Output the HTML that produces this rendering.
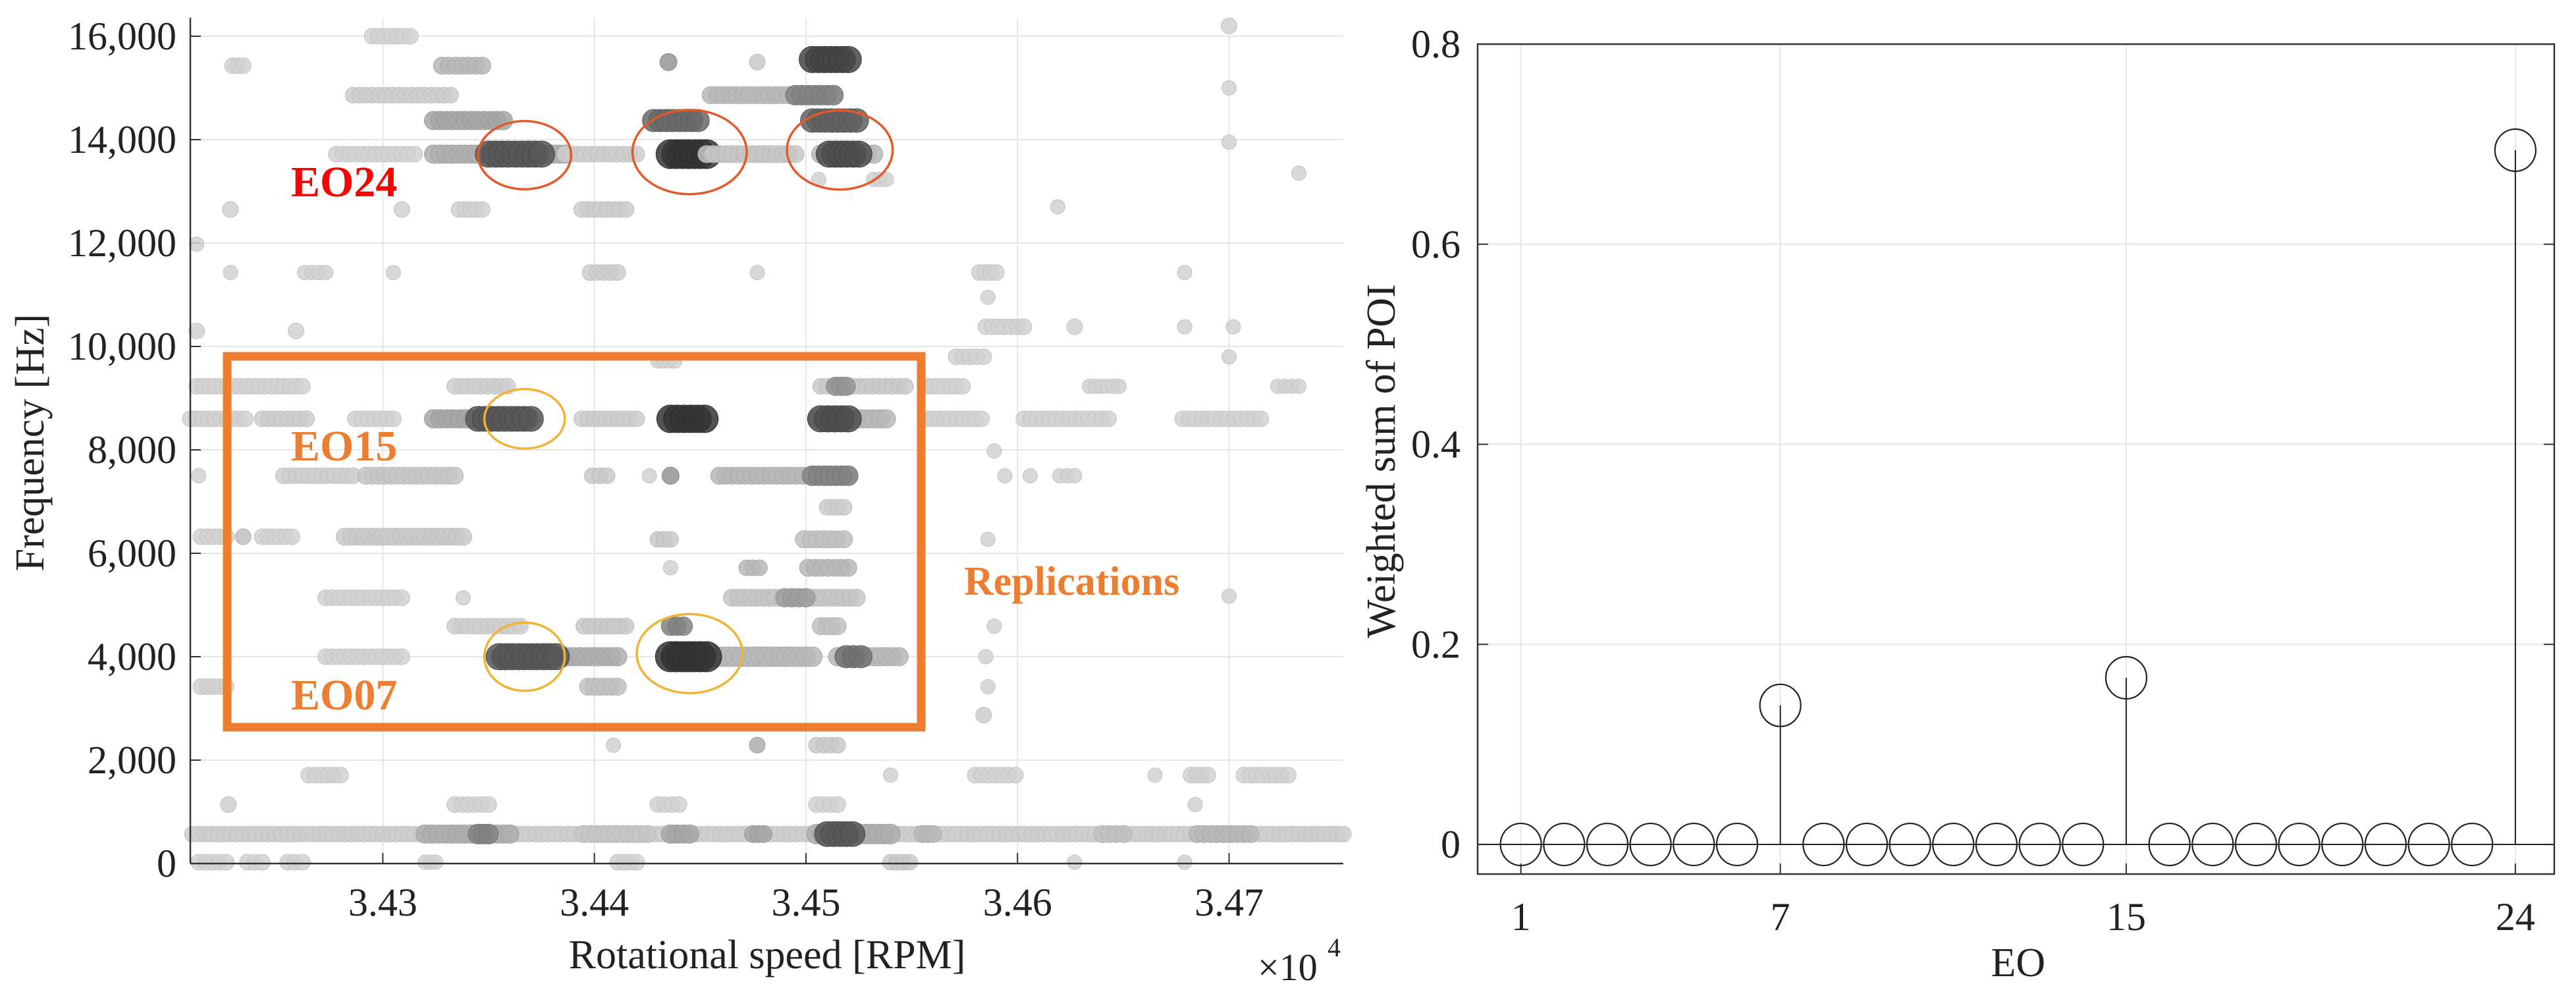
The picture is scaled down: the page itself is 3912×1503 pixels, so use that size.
<!DOCTYPE html>
<html><head><meta charset="utf-8"><style>
html,body{margin:0;padding:0;background:#fff}
svg{display:block}
text{font-family:"Liberation Serif","Times New Roman",serif}
</style></head><body>
<svg id="fig" width="3912" height="1503" viewBox="0 0 3912 1503" font-family="Liberation Serif, serif">
<g id="left"></g>
<g id="right"></g>
</svg>
<script>
// ---------- Left chart data: segments of points [rpmStart, rpmEnd, freqHz, shade(0 light..1 dark), radius]
const scatterSegments = [
[3.4295,3.4313,16000,0.05,12],[3.4229,3.4234,15430,0.05,12],[3.4328,3.4347,15430,0.2,13],
[3.4435,3.4435,15500,0.4,13],[3.4477,3.4477,15500,0.1,12],[3.4503,3.4520,15550,0.85,20],
[3.4286,3.4332,14860,0.08,12],[3.4455,3.4513,14860,0.2,13],[3.4495,3.4513,14860,0.5,15],
[3.4324,3.4357,14370,0.3,14],[3.4428,3.4449,14370,0.65,17],[3.4503,3.4524,14370,0.7,18],
[3.4278,3.4315,13720,0.05,12],[3.4324,3.4386,13720,0.25,14],[3.4350,3.4375,13720,0.75,20],
[3.4386,3.4420,13720,0.08,12],[3.4436,3.4453,13720,0.95,22],[3.4453,3.4495,13720,0.12,13],
[3.4507,3.4532,13720,0.2,14],[3.4511,3.4525,13720,0.8,20],
[3.4506,3.4506,13230,0.05,11],[3.4532,3.4538,13230,0.05,11],
[3.4228,3.4228,12650,0.05,12],[3.4309,3.4309,12650,0.05,12],[3.4336,3.4347,12650,0.05,12],[3.4394,3.4415,12650,0.08,12],
[3.4212,3.4212,11980,0.05,11],
[3.4228,3.4228,11430,0.05,11],[3.4263,3.4273,11430,0.05,11],[3.4305,3.4305,11430,0.05,11],[3.4398,3.4411,11430,0.08,12],
[3.4477,3.4477,11430,0.05,11],[3.4582,3.4590,11430,0.05,12],[3.4679,3.4679,11430,0.05,11],
[3.4586,3.4586,10950,0.05,11],
[3.4585,3.4603,10380,0.05,12],[3.4627,3.4627,10380,0.05,12],[3.4679,3.4679,10380,0.05,11],[3.4702,3.4702,10380,0.05,11],
[3.4212,3.4212,10300,0.05,12],[3.4259,3.4259,10300,0.05,12],
[3.4571,3.4584,9800,0.05,12],[3.4700,3.4700,9800,0.05,11],[3.4430,3.4438,9720,0.05,11],
[3.4212,3.4262,9230,0.05,12],[3.4334,3.4359,9230,0.07,12],[3.4507,3.4547,9230,0.1,12],[3.4514,3.4519,9230,0.4,14],
[3.4557,3.4574,9230,0.05,12],[3.4634,3.4648,9230,0.05,11],[3.4723,3.4733,9230,0.05,11],
[3.4209,3.4235,8600,0.05,12],[3.4243,3.4264,8600,0.08,12],[3.4287,3.4305,8600,0.05,12],
[3.4324,3.4370,8600,0.3,14],[3.4345,3.4370,8600,0.75,19],[3.4394,3.4420,8600,0.08,12],
[3.4436,3.4452,8600,0.95,21],[3.4505,3.4538,8600,0.2,14],[3.4507,3.4520,8600,0.8,20],
[3.4557,3.4583,8600,0.05,12],[3.4603,3.4643,8600,0.05,12],[3.4678,3.4715,8600,0.05,12],
[3.4589,3.4589,7980,0.05,11],
[3.4213,3.4213,7500,0.05,11],[3.4253,3.4286,7500,0.07,12],[3.4292,3.4334,7500,0.12,13],
[3.4399,3.4406,7500,0.1,12],[3.4426,3.4426,7500,0.05,11],[3.4436,3.4436,7500,0.4,13],
[3.4459,3.4520,7500,0.2,13],[3.4503,3.4520,7500,0.5,15],
[3.4594,3.4594,7500,0.05,11],[3.4606,3.4606,7500,0.05,11],[3.4620,3.4627,7500,0.05,11],
[3.4510,3.4518,6890,0.08,12],
[3.4214,3.4226,6320,0.05,12],[3.4234,3.4234,6320,0.15,12],[3.4243,3.4257,6320,0.05,12],[3.4282,3.4338,6320,0.1,13],
[3.4430,3.4436,6270,0.1,12],[3.4499,3.4518,6270,0.15,13],[3.4586,3.4586,6270,0.05,11],
[3.4436,3.4436,5720,0.05,11],[3.4472,3.4478,5720,0.2,12],[3.4501,3.4520,5720,0.2,13],
[3.4273,3.4309,5140,0.05,12],[3.4338,3.4338,5140,0.05,11],[3.4465,3.4524,5140,0.12,13],[3.4490,3.4500,5140,0.35,14],
[3.4700,3.4700,5170,0.05,11],
[3.4334,3.4365,4590,0.07,12],[3.4395,3.4415,4590,0.1,12],[3.4436,3.4442,4590,0.5,14],[3.4507,3.4515,4590,0.15,13],[3.4589,3.4589,4590,0.05,11],
[3.4273,3.4309,4000,0.05,12],[3.4355,3.4411,4000,0.25,14],[3.4355,3.4382,4000,0.75,20],
[3.4436,3.4503,4000,0.2,15],[3.4436,3.4453,4000,0.95,23],[3.4515,3.4544,4000,0.2,14],[3.4519,3.4526,4000,0.6,17],[3.4585,3.4585,4000,0.05,11],
[3.4214,3.4226,3420,0.05,12],[3.4397,3.4411,3420,0.15,13],[3.4586,3.4586,3420,0.05,11],
[3.4584,3.4584,2870,0.08,12],
[3.4409,3.4409,2290,0.05,11],[3.4477,3.4477,2290,0.25,12],[3.4505,3.4515,2290,0.1,12],
[3.4265,3.4280,1710,0.05,12],[3.4540,3.4540,1710,0.05,11],[3.4580,3.4599,1710,0.05,12],[3.4665,3.4665,1710,0.05,11],
[3.4682,3.4690,1710,0.05,12],[3.4707,3.4728,1710,0.05,12],
[3.4227,3.4227,1140,0.07,12],[3.4334,3.4350,1140,0.05,12],[3.4430,3.4440,1140,0.05,12],[3.4505,3.4515,1140,0.05,12],[3.4684,3.4684,1140,0.05,11],
[3.4210,3.4754,570,0.07,12],[3.4320,3.4360,570,0.25,14],[3.4345,3.4350,570,0.5,15],[3.4395,3.4425,570,0.12,13],
[3.4436,3.4445,570,0.3,14],[3.4475,3.4480,570,0.3,13],[3.4505,3.4540,570,0.25,15],[3.4510,3.4522,570,0.75,19],
[3.4555,3.4560,570,0.2,13],[3.4640,3.4650,570,0.15,13],[3.4685,3.4710,570,0.2,13],
[3.4213,3.4226,25,0.05,12],[3.4236,3.4243,25,0.05,12],[3.4255,3.4262,25,0.05,12],[3.4320,3.4325,25,0.05,11],
[3.4411,3.4420,25,0.05,12],[3.4540,3.4549,25,0.1,12],[3.4627,3.4627,25,0.05,11],[3.4679,3.4679,25,0.05,11],
[3.4700,3.4700,16200,0.05,12],[3.4700,3.4700,15000,0.05,11],[3.4700,3.4700,13950,0.05,11],[3.4733,3.4733,13350,0.05,11],
[3.4619,3.4619,12700,0.05,11]
];
const xTicksL = [3.43,3.44,3.45,3.46,3.47];
const xTickLabelsL = ["3.43","3.44","3.45","3.46","3.47"];
const yTicksL = [0,2000,4000,6000,8000,10000,12000,14000,16000];
const yTickLabelsL = ["0","2,000","4,000","6,000","8,000","10,000","12,000","14,000","16,000"];
const highlightRPM = [3.4367,3.4445,3.4516,3.4367,3.4367,3.4445];
const highlightFreq = [13700,13760,13800,8600,4000,4060];
const highlightRxRPM = [0.0022,0.0027,0.0025,0.0019,0.0019,0.0025];
const highlightRyHz = [660,815,765,575,660,765];
const highlightColor = ["#E05A2B","#E05A2B","#E05A2B","#F2B233","#F2B233","#F2B233"];

// ---------- Right chart data
const eoCategories = [1,2,3,4,5,6,7,8,9,10,11,12,13,14,15,16,17,18,19,20,21,22,23,24];
const poiValues = [0,0,0,0,0,0,0.139,0,0,0,0,0,0,0,0.1666,0,0,0,0,0,0,0,0,0.694];
const xTicksR = [1,7,15,24];
const yTicksR = [0,0.2,0.4,0.6,0.8];
const yTickLabelsR = ["0","0.2","0.4","0.6","0.8"];

const NS="http://www.w3.org/2000/svg";
const FONT='"Liberation Serif", "Times New Roman", serif';
function mk(parent,tag,attrs,text){const e=document.createElementNS(NS,tag);for(const k in attrs)e.setAttribute(k,attrs[k]);if(tag==='text'){e.setAttribute('font-family',FONT);e.style.fontFamily=FONT;}if(text!==undefined)e.textContent=text;parent.appendChild(e);return e;}

// ---------- Left chart
const L=document.getElementById('left');
const lx0=289,lx1=2040,ly0=1311,ly1=55;
const rpmMin=3.4209,rpmMax=3.4754;
const xL=v=>lx0+(v-rpmMin)/(rpmMax-rpmMin)*(lx1-lx0);
const yL=v=>ly0+(v/16000)*(ly1-ly0);
xTicksL.forEach((t,i)=>{
  const g=mk(L,'line',{x1:xL(t),x2:xL(t),y1:27,y2:ly0,stroke:'#e6e6e6','stroke-width':2});
  
  
  const tk=mk(L,'line',{x1:xL(t),x2:xL(t),y1:ly0,y2:ly0-16,stroke:'#333','stroke-width':2});
  
  
  const lb=mk(L,'text',{x:xL(t),y:1390,'font-size':60,'text-anchor':'middle',fill:'#222'},xTickLabelsL[i]);
  
  
});
yTicksL.forEach((t,i)=>{
  if(t>0){const g=mk(L,'line',{x1:lx0,x2:lx1,y1:yL(t),y2:yL(t),stroke:'#e6e6e6','stroke-width':2});
  
  }
  const tk=mk(L,'line',{x1:lx0,x2:lx0+16,y1:yL(t),y2:yL(t),stroke:'#333','stroke-width':2});
  
  
  const lb=mk(L,'text',{x:268,y:yL(t)+20,'font-size':60,'text-anchor':'end',fill:'#222'},yTickLabelsL[i]);
  
  
});
function shadeColor(s){const v=Math.round(218-s*175);return `rgb(${v},${v},${v})`;}
scatterSegments.forEach(seg=>{
  const [a,b,f,s,r]=seg;
  const step=0.0003;
  const n=Math.max(1,Math.round((b-a)/step)+1);
  for(let k=0;k<n;k++){
    const v=n===1?a:a+(b-a)*k/(n-1);
    const c=mk(L,'circle',{cx:xL(v),cy:yL(f),r:r,fill:shadeColor(s),stroke:shadeColor(Math.min(1,s+0.08)),'stroke-width':1,'fill-opacity':0.85});
    
    
  }
});
const ax1=mk(L,'line',{x1:lx0,x2:lx0,y1:27,y2:ly0,stroke:'#333','stroke-width':2.5});


const ax2=mk(L,'line',{x1:lx0,x2:lx1,y1:ly0,y2:ly0,stroke:'#333','stroke-width':2.5});


const pxPerRPM=(lx1-lx0)/(rpmMax-rpmMin), pxPerHz=(ly0-ly1)/16000;
highlightRPM.forEach((v,i)=>{
  const e=mk(L,'ellipse',{cx:xL(v),cy:yL(highlightFreq[i]),rx:highlightRxRPM[i]*pxPerRPM,ry:highlightRyHz[i]*pxPerHz,fill:'none',stroke:highlightColor[i],'stroke-width':3.5});
  
  
});
const box=mk(L,'rect',{x:345,y:541,width:1054,height:563,fill:'none',stroke:'#ED7D31','stroke-width':13});


const t1=mk(L,'text',{x:442,y:298,'font-size':66,'font-weight':'bold',fill:'#FF0000'},'EO24');


const t2=mk(L,'text',{x:442,y:699,'font-size':66,'font-weight':'bold',fill:'#ED7D31'},'EO15');


const t3=mk(L,'text',{x:442,y:1077,'font-size':66,'font-weight':'bold',fill:'#ED7D31'},'EO07');


const t4=mk(L,'text',{x:1464,y:903,'font-size':62,'font-weight':'bold',fill:'#ED7D31'},'Replications');


const xt=mk(L,'text',{x:1165,y:1470,'font-size':62,'text-anchor':'middle',fill:'#222'},'Rotational speed [RPM]');


const yt=mk(L,'text',{x:0,y:0,'font-size':62,'text-anchor':'middle',fill:'#222',transform:'translate(66,672) rotate(-90)'},'Frequency [Hz]');


const ex=mk(L,'text',{x:1910,y:1488,'font-size':58,fill:'#222'},'×10');


const ex2=mk(L,'text',{x:2016,y:1452,'font-size':40,fill:'#222'},'4');



// ---------- Right chart
const R=document.getElementById('right');
const rx0=2244,rx1=3879,ry0=1327,ryTop=67;
const eoMin=0,eoMax=24.9,vMin=-0.0296,vMax=0.8;
const xR=v=>rx0+(v-eoMin)/(eoMax-eoMin)*(rx1-rx0);
const yR=v=>ry0-(v-vMin)/(vMax-vMin)*(ry0-ryTop);
xTicksR.forEach(t=>{
  const g=mk(R,'line',{x1:xR(t),x2:xR(t),y1:ryTop,y2:ry0,stroke:'#e6e6e6','stroke-width':2});
  
  
  const tk=mk(R,'line',{x1:xR(t),x2:xR(t),y1:ry0,y2:ry0-16,stroke:'#333','stroke-width':2});
  
  
  const lb=mk(R,'text',{x:xR(t),y:1412,'font-size':60,'text-anchor':'middle',fill:'#222'},String(t));
  
  
});
yTicksR.forEach((t,i)=>{
  const g=mk(R,'line',{x1:rx0,x2:rx1,y1:yR(t),y2:yR(t),stroke:'#e6e6e6','stroke-width':2});
  
  
  const tk=mk(R,'line',{x1:rx0,x2:rx0+16,y1:yR(t),y2:yR(t),stroke:'#333','stroke-width':2});
  
  
  const tk2=mk(R,'line',{x1:rx1,x2:rx1-16,y1:yR(t),y2:yR(t),stroke:'#333','stroke-width':2});
  
  
  const lb=mk(R,'text',{x:2218,y:yR(t)+20,'font-size':60,'text-anchor':'end',fill:'#222'},yTickLabelsR[i]);
  
  
});
const frame=mk(R,'rect',{x:rx0,y:ryTop,width:rx1-rx0,height:ry0-ryTop,fill:'none',stroke:'#333','stroke-width':2.5});


const base=mk(R,'line',{x1:rx0,x2:rx1,y1:yR(0),y2:yR(0),stroke:'#222','stroke-width':2});


eoCategories.forEach((c,i)=>{
  const v=poiValues[i];
  if(v!==0){const s=mk(R,'line',{x1:xR(c),x2:xR(c),y1:yR(0),y2:yR(v),stroke:'#222','stroke-width':2});
  
  }
  const m=mk(R,'ellipse',{cx:xR(c),cy:yR(v),rx:31,ry:32,fill:'none',stroke:'#222','stroke-width':2.2});
  
  
});
const rxt=mk(R,'text',{x:xR(12.5),y:1482,'font-size':62,'text-anchor':'middle',fill:'#222'},'EO');


const ryt=mk(R,'text',{x:0,y:0,'font-size':62,'text-anchor':'middle',fill:'#222',transform:'translate(2118,700) rotate(-90)'},'Weighted sum of POI');


</script>
</body></html>
